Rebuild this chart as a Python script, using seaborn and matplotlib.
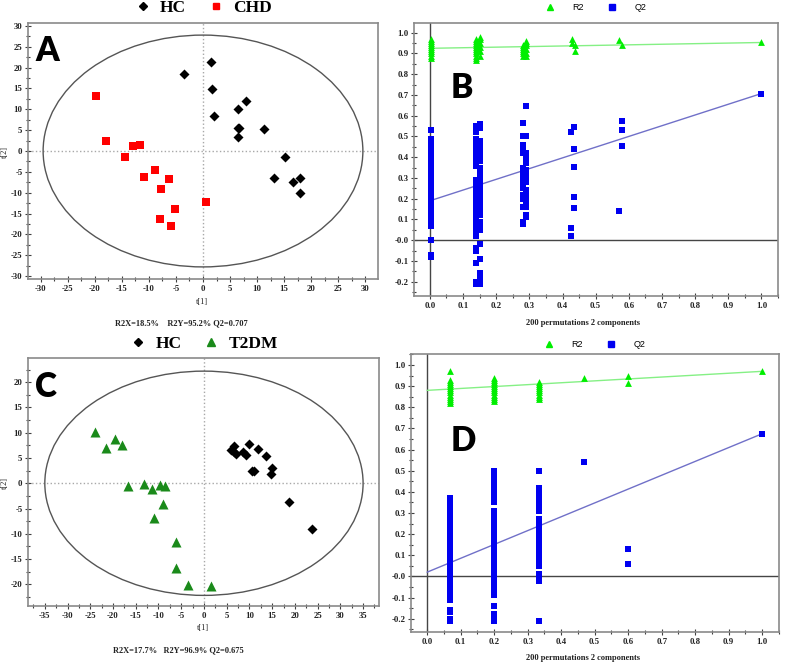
import numpy as np
import pandas as pd
import matplotlib
matplotlib.use('Agg')
import matplotlib.pyplot as plt
import seaborn as sns
from matplotlib.patches import Ellipse
from matplotlib.lines import Line2D
from matplotlib.ticker import MultipleLocator

W, H = 787, 665

# ---- panel A: scores HC vs CHD
a_hc_t1 = [1.5, -3.6, 1.7, 2.1, 6.4, 8.0, 6.4, 6.7, 6.4, 11.3, 15.2, 13.2, 16.7, 18.0, 18.0]
a_hc_t2 = [21.4, 18.4, 14.8, 8.5, 10.0, 11.9, 5.6, 5.5, 3.3, 5.2, -1.5, -6.5, -7.5, -6.5, -10.1]
a_chd_t1 = [-19.9, -18.0, -12.9, -11.6, -14.4, -8.8, -11.0, -6.3, -7.7, -5.1, 0.5, -8.0, -5.9]
a_chd_t2 = [13.2, 2.5, 1.2, 1.5, -1.5, -4.5, -6.2, -6.6, -9.0, -13.8, -12.3, -16.2, -18.0]
a_ticks = [-30, -25, -20, -15, -10, -5, 0, 5, 10, 15, 20, 25, 30]

# ---- panel C: scores HC vs T2DM
c_hc_t1 = [6.7, 6.0, 6.5, 7.0, 8.5, 9.8, 9.3, 11.9, 13.6, 10.6, 10.9, 15.0, 14.7, 18.8, 23.8]
c_hc_t2 = [7.4, 6.5, 6.2, 5.7, 6.1, 7.8, 5.5, 6.8, 5.3, 2.4, 2.4, 3.1, 1.8, -3.7, -9.0]
c_t2dm_t1 = [-24.0, -19.6, -21.6, -18.0, -16.6, -13.1, -11.4, -9.6, -8.5, -9.0, -10.9, -6.2, -6.2, -3.4, 1.5]
c_t2dm_t2 = [10.2, 8.8, 6.9, 7.6, -0.6, -0.1, -1.2, -0.4, -0.6, -4.1, -6.9, -11.7, -16.8, -20.1, -20.3]
c_xticks = [-35, -30, -25, -20, -15, -10, -5, 0, 5, 10, 15, 20, 25, 30, 35]
c_yticks = [-20, -15, -10, -5, 0, 5, 10, 15, 20]

# ---- panel B: permutation test (x = correlation, values per column)
b_r2 = {
    0.003: [0.88, 0.89, 0.90, 0.91, 0.92, 0.93, 0.94, 0.95, 0.96, 0.97],
    0.140: [0.87, 0.88, 0.89, 0.90, 0.91, 0.92, 0.93, 0.94, 0.95, 0.96, 0.97],
    0.150: [0.89, 0.91, 0.93, 0.95, 0.97, 0.98],
    0.280: [0.89, 0.90, 0.91, 0.92, 0.93, 0.94],
    0.290: [0.89, 0.90, 0.92, 0.94, 0.95, 0.96],
    0.428: [0.97, 0.95],
    0.437: [0.94, 0.91],
    0.570: [0.965],
    0.580: [0.94],
    1.000: [0.953],
}
b_q2 = {
    0.003: [0.53, 0.49, 0.47, 0.45, 0.43, 0.41, 0.39, 0.37, 0.35, 0.33, 0.31, 0.29, 0.27,
            0.25, 0.23, 0.21, 0.18, 0.16, 0.14, 0.12, 0.10, 0.08, 0.07, 0.0, -0.07, -0.08],
    0.140: [0.55, 0.52, 0.49, 0.46, 0.44, 0.42, 0.40, 0.38, 0.36, 0.29, 0.27, 0.25, 0.23,
            0.21, 0.19, 0.17, 0.15, 0.13, 0.11, 0.09, 0.07, 0.05, 0.03, 0.02, -0.04, -0.05,
            -0.11, -0.20, -0.21],
    0.150: [0.56, 0.54, 0.48, 0.45, 0.43, 0.41, 0.38, 0.35, 0.32, 0.30, 0.28, 0.26, 0.24,
            0.22, 0.20, 0.18, 0.16, 0.14, 0.12, 0.09, 0.07, 0.05, -0.02, -0.09, -0.16,
            -0.18, -0.21],
    0.280: [0.565, 0.50, 0.46, 0.44, 0.42, 0.35, 0.33, 0.31, 0.29, 0.27, 0.25, 0.22, 0.20,
            0.16, 0.09, 0.08],
    0.290: [0.645, 0.50, 0.42, 0.40, 0.37, 0.34, 0.32, 0.30, 0.28, 0.24, 0.22, 0.20, 0.17,
            0.16, 0.12, 0.11],
    0.425: [0.52, 0.06, 0.02],
    0.435: [0.545, 0.44, 0.355, 0.21, 0.155],
    0.570: [0.14],
    0.578: [0.575, 0.53, 0.455],
    1.000: [0.707],
}
b_r2_line = [0.925, 0.953]
b_q2_line = [0.19, 0.707]

# ---- panel D: permutation test
d_r2 = {
    0.067: [0.82, 0.83, 0.84, 0.85, 0.86, 0.87, 0.88, 0.89, 0.90, 0.91, 0.92, 0.93, 0.97],
    0.200: [0.83, 0.84, 0.85, 0.86, 0.87, 0.88, 0.89, 0.90, 0.91, 0.92, 0.93, 0.94],
    0.333: [0.84, 0.85, 0.86, 0.87, 0.88, 0.89, 0.90, 0.91, 0.92],
    0.467: [0.94],
    0.600: [0.95, 0.915],
    1.000: [0.97],
}
d_q2 = {
    0.067: [0.37, 0.35, 0.33, 0.31, 0.29, 0.27, 0.25, 0.23, 0.21, 0.19, 0.17, 0.15, 0.13,
            0.11, 0.09, 0.07, 0.05, 0.03, 0.01, -0.01, -0.03, -0.05, -0.07, -0.09, -0.11,
            -0.16, -0.17, -0.20, -0.21],
    0.200: [0.50, 0.48, 0.45, 0.43, 0.41, 0.39, 0.37, 0.35, 0.31, 0.29, 0.27, 0.25, 0.23,
            0.21, 0.19, 0.17, 0.15, 0.13, 0.11, 0.09, 0.07, 0.05, 0.03, 0.01, -0.01, -0.03,
            -0.05, -0.07, -0.09, -0.14, -0.18, -0.20, -0.21],
    0.333: [0.50, 0.42, 0.40, 0.38, 0.35, 0.33, 0.31, 0.27, 0.25, 0.23, 0.21, 0.18, 0.16,
            0.14, 0.12, 0.09, 0.07, 0.05, 0.01, -0.01, -0.02, -0.21],
    0.467: [0.54],
    0.600: [0.13, 0.06],
    1.000: [0.675],
}
d_r2_line = [0.88, 0.97]
d_q2_line = [0.02, 0.675]

perm_xticks = [0.0, 0.1, 0.2, 0.3, 0.4, 0.5, 0.6, 0.7, 0.8, 0.9, 1.0]
perm_yticks = [-0.2, -0.1, 0.0, 0.1, 0.2, 0.3, 0.4, 0.5, 0.6, 0.7, 0.8, 0.9, 1.0]
perm_ylabels = ['-0.2', '-0.1', '-0.0', '0.1', '0.2', '0.3', '0.4', '0.5', '0.6', '0.7',
                '0.8', '0.9', '1.0']

sns.set_style('white')
plt.rcParams['font.family'] = ['Liberation Serif', 'DejaVu Serif']
plt.rcParams['font.weight'] = 'bold'
plt.rcParams['axes.unicode_minus'] = False
plt.rcParams['text.color'] = 'black'
plt.rcParams['xtick.labelcolor'] = '#222222'
plt.rcParams['ytick.labelcolor'] = '#222222'

FRAME = '#8a8a8a'


def rect(x0, y0, x1, y1):
    return [x0 / W, 1 - y1 / H, (x1 - x0) / W, (y1 - y0) / H]


def to_long(groups):
    rows = [(x, v) for x, vals in groups.items() for v in vals]
    return pd.DataFrame(rows, columns=['x', 'y'])


def style_frame(ax):
    for s in ax.spines.values():
        s.set_visible(True)
        s.set_color(FRAME)
        s.set_linewidth(1.2)
    ax.tick_params(which='both', direction='inout', color='#404040', width=0.8,
                   labelsize=6.3, pad=2, left=True, bottom=True)
    ax.tick_params(which='major', length=4)
    ax.tick_params(which='minor', length=3)
    ax.set_xlabel('')
    ax.set_ylabel('')


def score_panel(ax, xticks, yticks, xlim, ylim, ell_w, ell_h):
    ax.add_patch(Ellipse((0, 0), 2 * ell_w, 2 * ell_h, fill=False, color='#555555', lw=1))
    ax.axhline(0, color='#a8a8a8', ls=':', lw=1, zorder=0)
    ax.axvline(0, color='#a8a8a8', ls=':', lw=1, zorder=0)
    ax.set_xlim(xlim)
    ax.set_ylim(ylim)
    ax.set_xticks(xticks)
    ax.set_yticks(yticks)
    ax.xaxis.set_minor_locator(MultipleLocator(2.5))
    ax.yaxis.set_minor_locator(MultipleLocator(2.5))
    style_frame(ax)


def perm_panel(ax, r2, q2, r2_line, q2_line):
    ax.axhline(0, color='#454545', lw=1, zorder=1)
    ax.axvline(0, color='#454545', lw=1, zorder=1)
    sns.lineplot(x=[0, 1], y=r2_line, color='#85f085', lw=1, ax=ax, zorder=2)
    sns.lineplot(x=[0, 1], y=q2_line, color='#7070c8', lw=1, ax=ax, zorder=2)
    r = to_long(r2)
    q = to_long(q2)
    sns.scatterplot(data=r, x='x', y='y', marker='^', s=24, color='#00ee00',
                    linewidth=0, ax=ax, zorder=3)
    sns.scatterplot(data=q, x='x', y='y', marker='s', s=19, color='#0000f0',
                    linewidth=0, ax=ax, zorder=3)
    ax.set_xlim(-0.048, 1.05)
    ax.set_xticks(perm_xticks)
    ax.set_yticks(perm_yticks)
    ax.set_yticklabels(perm_ylabels)
    ax.xaxis.set_minor_locator(MultipleLocator(0.05))
    ax.yaxis.set_minor_locator(MultipleLocator(0.05))
    style_frame(ax)
    handles = [Line2D([], [], marker='^', ls='', color='#00ee00', markersize=4.5),
               Line2D([], [], marker='s', ls='', color='#0000f0', markersize=4)]
    ax.legend(handles, ['R2', 'Q2'], loc='center', ncol=2, frameon=False,
              handlelength=1, handletextpad=2.0, columnspacing=2.6,
              prop={'family': 'Liberation Sans', 'weight': 'normal', 'size': 6.5})


fig = plt.figure(figsize=(W / 100, H / 100), dpi=100)

# A
axA = fig.add_axes(rect(28, 23, 378, 279))
score_panel(axA, a_ticks, a_ticks, (-32.4, 32.4), (-30.7, 30.7), 29.6, 27.8)
sns.scatterplot(x=a_hc_t1, y=a_hc_t2, marker='D', s=26, color='black', linewidth=0, ax=axA)
sns.scatterplot(x=a_chd_t1, y=a_chd_t2, marker='s', s=28, color='#ff0000', linewidth=0, ax=axA)
axA.legend([Line2D([], [], marker='D', ls='', color='black', markersize=3.8),
            Line2D([], [], marker='s', ls='', color='#ff0000', markersize=4.2)],
           ['HC', 'CHD'], loc='center', bbox_to_anchor=(0.5, 1.058), ncol=2, frameon=False,
           handlelength=1, handletextpad=0.5, columnspacing=1.2,
           prop={'family': 'Liberation Serif', 'weight': 'bold', 'size': 12.5})

# B
axB = fig.add_axes(rect(414, 23, 778, 296))
perm_panel(axB, b_r2, b_q2, b_r2_line, b_q2_line)
axB.set_ylim(-0.269, 1.047)
axB.get_legend().set_bbox_to_anchor((0.5, 1.055))

# C
axC = fig.add_axes(rect(28, 358, 379, 606))
score_panel(axC, c_xticks, c_yticks, (-38.7, 38.5), (-24.3, 24.8), 35, 22.2)
sns.scatterplot(x=c_hc_t1, y=c_hc_t2, marker='D', s=26, color='black', linewidth=0, ax=axC)
sns.scatterplot(x=c_t2dm_t1, y=c_t2dm_t2, marker='^', s=52, color='#1a8a1a', linewidth=0, ax=axC)
axC.legend([Line2D([], [], marker='D', ls='', color='black', markersize=3.8),
            Line2D([], [], marker='^', ls='', color='#1a8a1a', markersize=5.5)],
           ['HC', 'T2DM'], loc='center', bbox_to_anchor=(0.5, 1.056), ncol=2, frameon=False,
           handlelength=1, handletextpad=0.5, columnspacing=1.2,
           prop={'family': 'Liberation Serif', 'weight': 'bold', 'size': 12.5})

# D
axD = fig.add_axes(rect(411, 354, 779, 632))
perm_panel(axD, d_r2, d_q2, d_r2_line, d_q2_line)
axD.set_ylim(-0.263, 1.052)
axD.get_legend().set_bbox_to_anchor((0.5, 1.035))

# panel letters
for letter, (x, y) in zip('ABCD', [(47, 51), (462, 88), (46, 387), (463, 441)]):
    fig.text(x / W, 1 - y / H, letter, fontsize=24, fontweight='heavy', family='Lato',
             color='black', ha='center', va='center')


# axis labels and model stats
def ftext(x, y, s, **kw):
    fig.text(x / W, 1 - y / H, s, va='center', color='#222222', **kw)


ftext(5, 152, 't[2]', rotation=90, ha='center', fontsize=6, fontweight='normal')
ftext(5, 483, 't[2]', rotation=90, ha='center', fontsize=6, fontweight='normal')
ftext(202, 302, 't[1]', ha='center', fontsize=6, fontweight='normal')
ftext(203, 628, 't[1]', ha='center', fontsize=6, fontweight='normal')
ftext(115, 323, 'R2X=18.5%    R2Y=95.2% Q2=0.707', ha='left', fontsize=6)
ftext(113, 650, 'R2X=17.7%   R2Y=96.9% Q2=0.675', ha='left', fontsize=6)
ftext(583, 323, '200 permutations 2 components', ha='center', fontsize=6)
ftext(583, 658, '200 permutations 2 components', ha='center', fontsize=6)

fig.savefig('out.png', dpi=100)
